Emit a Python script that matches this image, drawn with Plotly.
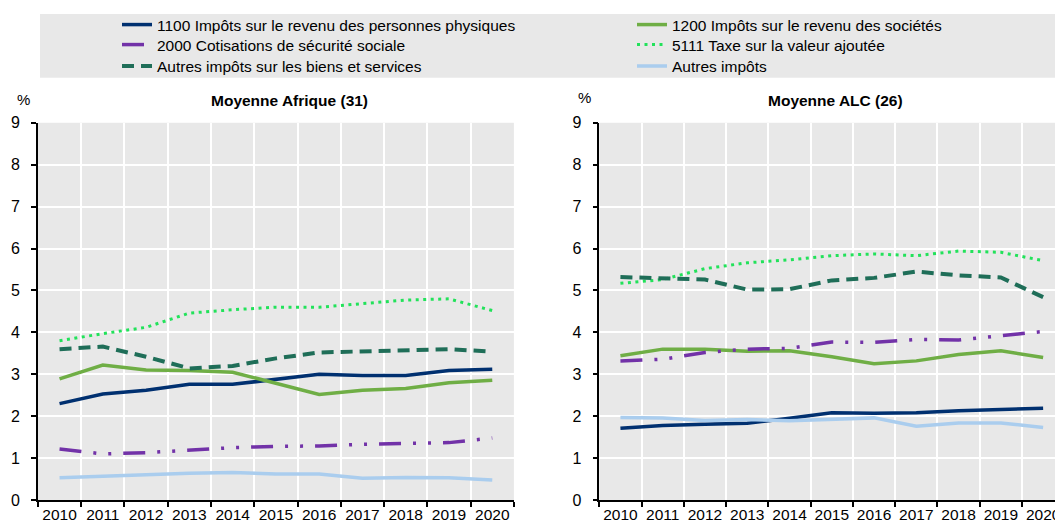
import plotly.graph_objects as go

# années
annees = ["2010", "2011", "2012", "2013", "2014", "2015", "2016", "2017", "2018", "2019", "2020"]

# Moyenne Afrique (31)
afr_1100 = [2.30, 2.53, 2.62, 2.76, 2.76, 2.88, 3.00, 2.97, 2.97, 3.09, 3.12]
afr_1200 = [2.89, 3.22, 3.10, 3.09, 3.05, 2.78, 2.52, 2.62, 2.66, 2.80, 2.86]
afr_2000 = [1.22, 1.10, 1.13, 1.20, 1.25, 1.28, 1.29, 1.33, 1.34, 1.37, 1.48]
afr_5111 = [3.80, 3.97, 4.12, 4.46, 4.54, 4.60, 4.60, 4.68, 4.77, 4.80, 4.52]
afr_biens = [3.60, 3.66, 3.42, 3.14, 3.20, 3.38, 3.52, 3.54, 3.57, 3.60, 3.54]
afr_autres = [0.53, 0.57, 0.62, 0.64, 0.66, 0.62, 0.62, 0.52, 0.54, 0.53, 0.48]

# Moyenne ALC (26)
alc_1100 = [1.71, 1.78, 1.81, 1.83, 1.95, 2.08, 2.07, 2.08, 2.13, 2.17, 2.19]
alc_1200 = [3.44, 3.60, 3.60, 3.55, 3.56, 3.42, 3.25, 3.32, 3.47, 3.56, 3.40]
alc_2000 = [3.32, 3.36, 3.52, 3.60, 3.62, 3.77, 3.76, 3.83, 3.82, 3.93, 4.02]
alc_5111 = [5.17, 5.26, 5.52, 5.66, 5.73, 5.83, 5.87, 5.83, 5.94, 5.91, 5.71]
alc_biens = [5.32, 5.29, 5.26, 5.02, 5.03, 5.24, 5.30, 5.45, 5.36, 5.31, 4.84]
alc_autres = [1.97, 1.96, 1.90, 1.92, 1.89, 1.92, 1.96, 1.76, 1.84, 1.84, 1.73]

noms = ["1100 Impôts sur le revenu des personnes physiques",
        "1200 Impôts sur le revenu des sociétés",
        "2000 Cotisations de sécurité sociale",
        "5111 Taxe sur la valeur ajoutée",
        "Autres impôts sur les biens et services",
        "Autres impôts"]

styles = [dict(color="#003070", width=3.5, dash="solid"),
          dict(color="#6fae45", width=3.5, dash="solid"),
          dict(color="#7232a8", width=3.5, dash="22px,12px,3px,12px,3px,12px"),
          dict(color="#22e25a", width=3, dash="3px,4.5px"),
          dict(color="#1f6e58", width=4, dash="12px,7px"),
          dict(color="#aacdee", width=3.5, dash="solid")]

FONT = "Liberation Sans, Arial, sans-serif"

# la page a une marge de 8px : tout est placé en pixels de la fenêtre
W = 1055
H = 514
OFF = 8


def px(x):
    return (x - OFF) / W


def py(y):
    return 1 - (y - OFF) / H


fig = go.Figure()

afrique = [afr_1100, afr_1200, afr_2000, afr_5111, afr_biens, afr_autres]
alc = [alc_1100, alc_1200, alc_2000, alc_5111, alc_biens, alc_autres]

# une légende par entrée, disposées en 2 colonnes x 3 lignes
leg_x = [157, 672, 157, 672, 157, 672]
leg_y = [24, 24, 45, 45, 66.5, 66.5]
leg_ids = ["legend", "legend2", "legend3", "legend4", "legend5", "legend6"]

for i in range(6):
    fig.add_trace(go.Scatter(x=annees, y=afrique[i], mode="lines", name=noms[i],
                             line=styles[i], legend=leg_ids[i],
                             xaxis="x", yaxis="y"))
for i in range(6):
    fig.add_trace(go.Scatter(x=annees, y=alc[i], mode="lines", name=noms[i],
                             line=styles[i], showlegend=False,
                             xaxis="x2", yaxis="y2"))

ydom = [py(500), py(122)]

axe_x = dict(type="category", tickson="boundaries", showline=True, linecolor="black",
             linewidth=1.5, ticks="outside", ticklen=5, tickcolor="black", tickwidth=1.5,
             showgrid=True, gridcolor="white", gridwidth=2, zeroline=False, tickangle=0,
             tickfont=dict(size=15.5, color="black", family=FONT), automargin=False)
axe_y = dict(range=[0, 9], dtick=1, showline=True, linecolor="black", linewidth=1.5,
             ticks="outside", ticklen=5, tickcolor="black", tickwidth=1.5,
             showgrid=True, gridcolor="white", gridwidth=2, zeroline=False,
             tickfont=dict(size=16, color="black", family=FONT), ticklabelstandoff=8,
             automargin=False, domain=ydom)

legendes = {}
for i in range(6):
    legendes[leg_ids[i]] = dict(bgcolor="rgba(0,0,0,0)",
                                font=dict(size=15.5, color="black", family=FONT),
                                xanchor="left", yanchor="middle",
                                x=px(leg_x[i] - 40), y=py(leg_y[i]))

fig.update_layout(
    width=W, height=H, autosize=False,
    margin=dict(l=0, r=0, t=0, b=0),
    paper_bgcolor="white", plot_bgcolor="#e8e8e8",
    font=dict(family=FONT, color="black"),
    xaxis=dict(axe_x, domain=[px(37.9), px(513.9)], range=[-0.5, 10.5], anchor="y"),
    yaxis=dict(axe_y, anchor="x"),
    xaxis2=dict(axe_x, domain=[px(599.3), 1], range=[-0.5, 10.47], anchor="y2"),
    yaxis2=dict(axe_y, anchor="x2"),
    shapes=[dict(type="rect", xref="paper", yref="paper", x0=px(40), x1=1,
                 y0=py(77), y1=py(13), fillcolor="#e8e8e8", line_width=0,
                 layer="below")],
    annotations=[
        dict(text="<b>Moyenne Afrique (31)</b>", x=px(289), y=py(100), xref="paper",
             yref="paper", showarrow=False, font=dict(size=15.5), xanchor="center",
             yanchor="middle"),
        dict(text="<b>Moyenne ALC (26)</b>", x=px(835), y=py(100), xref="paper",
             yref="paper", showarrow=False, font=dict(size=15.5), xanchor="center",
             yanchor="middle"),
        dict(text="%", x=px(23.5), y=py(99), xref="paper", yref="paper",
             showarrow=False, font=dict(size=15), xanchor="center", yanchor="middle"),
        dict(text="%", x=px(584), y=py(97), xref="paper", yref="paper",
             showarrow=False, font=dict(size=15), xanchor="center", yanchor="middle"),
    ],
    **legendes,
)

fig.write_html("out.html")
